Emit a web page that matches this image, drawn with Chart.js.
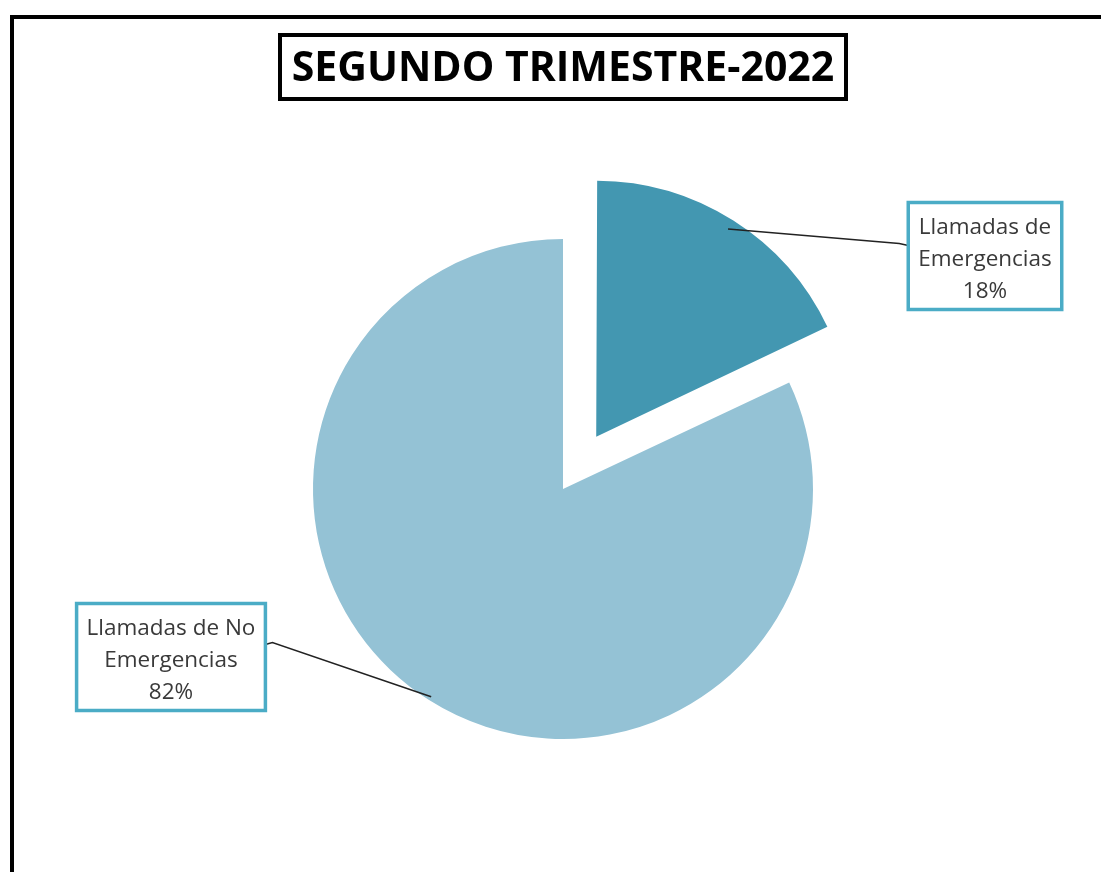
<!DOCTYPE html>
<html>
<head>
<meta charset="utf-8">
<script src="https://cdn.jsdelivr.net/npm/chart.js@4.4.1/dist/chart.umd.min.js"></script>
<style>
	html, body { margin: 0; padding: 0; background: #fff; }
	#wrap { position: relative; width: 1101px; height: 872px; }
</style>
</head>
<body>
<div id="wrap"><canvas id="pie" width="1101" height="872"></canvas></div>
<script>
// Data
const chartTitle = 'SEGUNDO TRIMESTRE-2022';
const categories = [ 'Llamadas de Emergencias', 'Llamadas de No Emergencias' ];
const percents = [ 18, 82 ];
// label text lines for each slice (wrapped as in the picture)
const labelLines = [
	[ 'Llamadas de', 'Emergencias' ],
	[ 'Llamadas de No', 'Emergencias' ]
];
const colors = [ '#4397b1', '#94c2d5' ];

// Layout: where the label boxes sit (centre), which side the leader enters from
const labelBoxes = [
	{ cx: 985, cy: 256, side: 'left' },
	{ cx: 171, cy: 657, side: 'right' }
];

const labelFont = '22.5px "Open Sans", sans-serif';

const Decor = {
	id: 'decor',
	afterDraw: function ( chart ) {
		const ctx = chart.ctx;
		ctx.save();

		// outer frame, runs off the right and bottom edges
		ctx.strokeStyle = '#000';
		ctx.lineWidth = 4;
		ctx.strokeRect( 12, 17, 1200, 1000 );

		// title in a box
		let size = 42;
		ctx.font = 'bold ' + size + 'px "Open Sans", sans-serif';
		let w = ctx.measureText( chartTitle ).width;
		if ( w > 546 ) {
			size = Math.floor( size * 546 / w );
			ctx.font = 'bold ' + size + 'px "Open Sans", sans-serif';
		}
		ctx.fillStyle = '#fff';
		ctx.fillRect( 280, 35, 566, 64 );
		ctx.lineWidth = 4;
		ctx.strokeRect( 280, 35, 566, 64 );
		ctx.fillStyle = '#000';
		ctx.textAlign = 'center';
		ctx.textBaseline = 'middle';
		ctx.fillText( chartTitle, 563, 69 );

		// data labels with leader lines
		const meta = chart.getDatasetMeta( 0 );
		ctx.font = labelFont;
		meta.data.forEach( function ( el, i ) {
			const box = labelBoxes[ i ];
			const lines = labelLines[ i ].concat( [ percents[ i ] + '%' ] );
			let tw = 0;
			lines.forEach( function ( t ) {
				tw = Math.max( tw, ctx.measureText( t ).width );
			} );
			const bw = tw + 20;
			const bh = 107;
			const bx = box.cx - bw / 2;
			const by = box.cy - bh / 2;

			// leader line from the middle of the arc
			const mid = ( el.startAngle + el.endAngle ) / 2;
			const off = ( el.options.offset || 0 ) / 4;
			const px = el.x + Math.cos( mid ) * ( off + el.outerRadius - 4 );
			const py = el.y + Math.sin( mid ) * ( off + el.outerRadius - 4 );
			const ey = by + ( box.side === 'left' ? 43 : 41 );
			const ex = box.side === 'left' ? bx : bx + bw;
			const elbow = box.side === 'left' ? ex - 9 : ex + 7;
			ctx.strokeStyle = '#222';
			ctx.lineWidth = 1.5;
			ctx.beginPath();
			ctx.moveTo( px, py );
			ctx.lineTo( elbow, ey - 2 );
			ctx.lineTo( ex, ey );
			ctx.stroke();

			ctx.fillStyle = '#fff';
			ctx.fillRect( bx, by, bw, bh );
			ctx.strokeStyle = '#4bacc6';
			ctx.lineWidth = 3.5;
			ctx.strokeRect( bx, by, bw, bh );

			ctx.fillStyle = '#3a3a3a';
			lines.forEach( function ( t, j ) {
				ctx.fillText( t, box.cx, by + 25 + j * 32 );
			} );
		} );
		ctx.restore();
	}
};

new Chart( document.getElementById( 'pie' ), {
	type: 'pie',
	data: {
		labels: categories,
		datasets: [ {
			data: percents,
			backgroundColor: colors,
			borderWidth: 0,
			offset: [ 248, 0 ]
		} ]
	},
	options: {
		responsive: false,
		animation: false,
		events: [],
		radius: 250,
		layout: {
			padding: { left: 100, right: 75, top: 170, bottom: 64 }
		},
		plugins: {
			legend: { display: false },
			tooltip: { enabled: false },
			title: { display: false }
		}
	},
	plugins: [ Decor ]
} );
</script>
</body>
</html>
